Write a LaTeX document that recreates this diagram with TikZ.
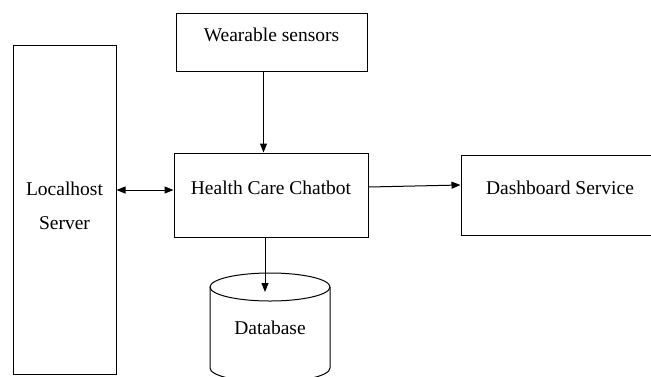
\documentclass[tikz,border=0pt]{standalone}
\usepackage{fontspec}
\setmainfont{Liberation Serif}
\usetikzlibrary{%
  arrows.meta,%
  positioning,%
  calc%
}

\begin{document}
\begin{tikzpicture}
  [
  x=1pt, y=-1pt,
  line width=1pt, draw=black, >={Triangle[length=9pt,width=7pt]},
  every node/.style={font=\fontsize{19.5}{34}\selectfont},
  blockbox/.style={rectangle, draw=black, inner sep=0pt},
  topbox/.style={blockbox, text height=13pt, text depth=15pt}
  ]
  \useasboundingbox (0,0) rectangle (651,376);

  % boxes
  \node[topbox, minimum width=191pt, minimum height=58pt] (sensors) at (271.5,42) {Wearable sensors};
  \node[topbox, minimum width=194pt, minimum height=84pt] (chatbot) at (271,195) {Health Care Chatbot};
  \node[topbox, minimum width=198pt, minimum height=80pt] (dashboard) at (560,195) {Dashboard Service};
  \node[blockbox, align=center, text depth=8pt, minimum width=103pt, minimum height=329pt] (localhost) at (64.5,209.5) {Localhost\\Server};

  % database cylinder
  \coordinate (dbtop) at (270,287);
  \coordinate (dbleft) at (210,287);
  \coordinate (dbright) at (330,287);
  \draw (dbtop) ellipse [x radius=60pt, y radius=14pt];
  \draw (dbleft) -- (210,368) arc [start angle=180, end angle=360, x radius=60pt, y radius=14pt] -- (dbright);
  \node (db) at (270,328) {Database};

  % connectors
  \draw[->] ([xshift=-8pt]sensors.south) -- ([xshift=-8pt]sensors.south |- chatbot.north);
  \draw[<->] ([yshift=5pt]chatbot.west -| localhost.east) -- ([yshift=5pt]chatbot.west);
  \draw[->] ([yshift=8pt]chatbot.east) -- ([yshift=10pt]dashboard.west);
  \draw[->] ([xshift=-6pt]chatbot.south) -- ([xshift=-6pt,yshift=-5pt]chatbot.south |- dbtop);
\end{tikzpicture}
\end{document}
